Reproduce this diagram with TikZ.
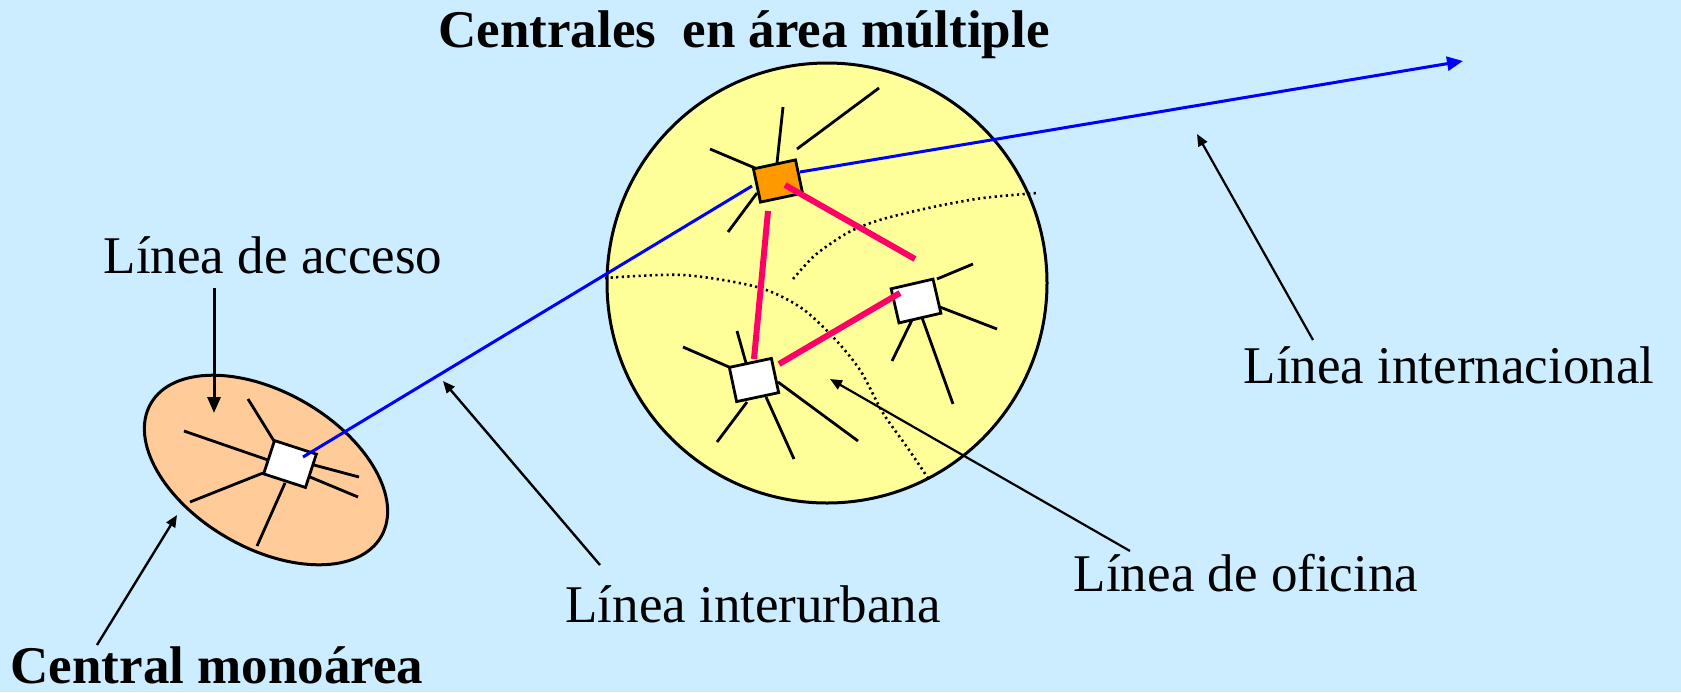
\documentclass[tikz,border=0pt]{standalone}
\usepackage{fontspec}
\setmainfont{Liberation Serif}
\usetikzlibrary{arrows.meta,shapes.geometric}
\definecolor{bgblue}{HTML}{CCECFF}
\definecolor{areayel}{HTML}{FFFF99}
\definecolor{monoor}{HTML}{FFCC99}
\definecolor{hubor}{HTML}{FF9900}
\definecolor{trunkpk}{HTML}{FF0066}
\tikzset{
  lbl/.style={font=\fontsize{26.5pt}{30pt}\selectfont,inner sep=0pt,anchor=base},
  lblb/.style={lbl,font=\fontsize{26.5pt}{30pt}\selectfont\bfseries},
  sw/.style={rectangle,draw,line width=1.4pt,fill=white,inner sep=0pt,minimum width=21.5pt,minimum height=17.5pt},
  spoke/.style={line width=1.4pt},
  trunk/.style={trunkpk,line width=3pt},
  intl/.style={blue,line width=1.5pt},
  dots/.style={line width=1.3pt,dash pattern=on 1.1pt off 1.7pt},
  ptr/.style={line width=1.2pt,-{Triangle[length=6pt,width=5pt]}}
}
\begin{document}
\begin{tikzpicture}[x=0.5pt,y=-0.5pt]
\fill[bgblue] (0,0) rectangle (1681,692);
\useasboundingbox (0,0) rectangle (1681,692);
% areas
\node[ellipse,draw,line width=1.5pt,fill=monoor,minimum width=133pt,minimum height=78pt,rotate=-30] (mono) at (266,470) {};
\node[circle,draw,line width=1.5pt,fill=areayel,minimum size=220pt] (multi) at (827,283) {};
% area boundaries
\draw[dots] plot[smooth] coordinates {(605,278) (683,275) (757,287) (800,307) (833,337) (860,370) (883,413) (907,447) (928,478)};
\draw[dots] plot[smooth] coordinates {(793,279) (813,257) (833,242) (853,230) (883,219) (933,207) (983,198) (1037,193)};
% subscriber lines
\foreach \xa/\ya/\xb/\yb in {777/163/783/107,797/149/879/88,755/168/710/149,757/193/728/232,
  737/331/746/363,683/347/729/367,747/402/717/442,766/397/794/459,778/382/858/441,
  937/279/973/264,932/304/997/329,912/320/892/361,920/312/953/404,
  248/399/274/441,184/431/268/460,263/473/190/502,285/483/257/546,314/465/359/477,310/477/358/497}
  {\draw[spoke] (\xa,\ya) -- (\xb,\yb);}
% exchanges
\node[sw,fill=hubor,rotate=12,minimum height=17pt] (hub) at (778,181) {};
\node[sw,rotate=12] (w1) at (754,380) {};
\node[sw,rotate=13] (w2) at (916,301) {};
\node[sw,rotate=-18,minimum width=22pt] (s1) at (290,464) {};
% office trunks
\coordinate (ta1) at (785,185); \coordinate (ta2) at (915,259);
\coordinate (tb1) at (768,211); \coordinate (tb2) at (754,359);
\coordinate (tc1) at (779,364); \coordinate (tc2) at (900,293);
\draw[trunk] (ta1) -- (ta2);
\draw[trunk] (tb1) -- (tb2);
\draw[trunk] (tc1) -- (tc2);
% long distance
\coordinate (ia1) at (303,457); \coordinate (ia2) at (752,186);
\coordinate (ib1) at (800,172); \coordinate (ib2) at (1463,61);
\draw[intl] (ia1) -- (ia2);
\draw[intl,-{Triangle[length=8pt,width=7pt]}] (ib1) -- (ib2);
% labels
\node[lblb] (tmulti) at (744,47) {Centrales\ \ en área múltiple};
\node[lbl] (tacc) at (273,273) {Línea de acceso};
\node[lblb] (tmono) at (217,683) {Central monoárea};
\node[lbl] (tinter) at (753,622) {Línea interurbana};
\node[lbl] (tofi) at (1246,591) {Línea de oficina};
\node[lbl] (tintl) at (1449,383) {Línea internacional};
% pointers
\coordinate (pacc1) at (214,288); \coordinate (pacc2) at (214,413);
\coordinate (pmon1) at (97,645); \coordinate (pmon2) at (177,515);
\coordinate (pint1) at (600,565); \coordinate (pint2) at (443,381);
\coordinate (pofi1) at (1130,551); \coordinate (pofi2) at (830,379);
\coordinate (pitl1) at (1313,340); \coordinate (pitl2) at (1197,134);
\draw[ptr,line width=1.5pt,-{Triangle[length=8pt,width=6.5pt]}] (pacc1) -- (pacc2);
\draw[ptr] (pmon1) -- (pmon2);
\draw[ptr] (pint1) -- (pint2);
\draw[ptr,line width=1.1pt] (pofi1) -- (pofi2);
\draw[ptr,line width=1.1pt] (pitl1) -- (pitl2);
\end{tikzpicture}
\end{document}
